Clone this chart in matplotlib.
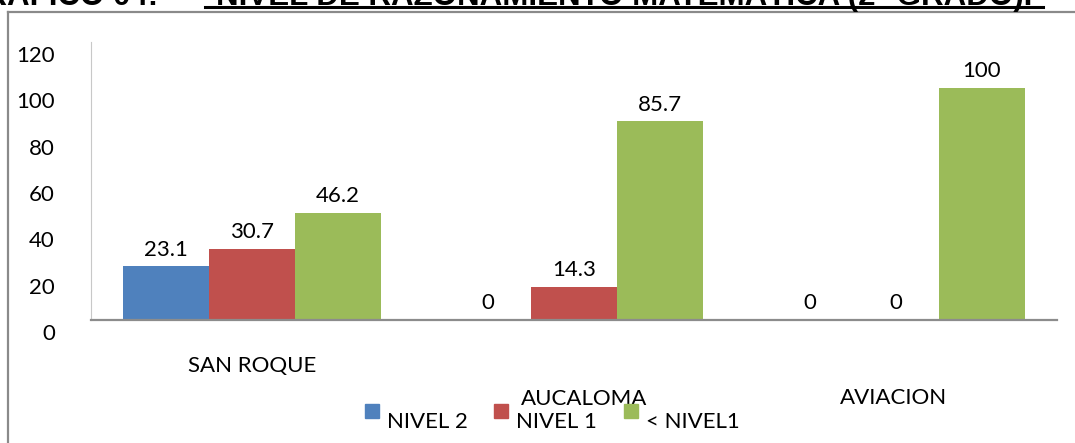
import numpy as np
import matplotlib
matplotlib.use("Agg")
import matplotlib.pyplot as plt
from matplotlib.transforms import ScaledTranslation
from matplotlib.lines import Line2D
from matplotlib.patches import Rectangle

# --- Data ---
schools  = ["SAN ROQUE", "AUCALOMA", "AVIACION"]
series   = ["NIVEL 2", "NIVEL 1", "< NIVEL1"]
nivel2   = [23.1, 0, 0]
nivel1   = [30.7, 14.3, 0]
bajo1    = [46.2, 85.7, 100]
colors   = ["#4F81BD", "#C0504D", "#9BBB59"]
yticks   = [0, 20, 40, 60, 80, 100, 120]

W, H = 1075, 443
plt.rcParams['font.family'] = ['Lato', 'DejaVu Sans']

fig = plt.figure(figsize=(W / 100, H / 100), dpi=100)
ax = fig.add_axes([91 / W, 1 - 320 / H, (1057 - 91) / W, (320 - 42) / H])

def px(x, y):                     # pixel (from top-left) -> figure fraction
    return x / W, 1 - y / H

# --- Bars ---
x = np.arange(len(schools))
bw = 0.8 / 3
for i, (vals, c) in enumerate(zip([nivel2, nivel1, bajo1], colors)):
    bars = ax.bar(x + (i - 1) * bw, vals, bw, color=c, zorder=2)
    ax.bar_label(bars, labels=[f"{v:g}" for v in vals], padding=5, fontsize=16)

ax.set_xlim(-0.5, 2.5)
ax.set_ylim(0, 120)
ax.set_yticks(yticks)
ax.tick_params(axis='y', length=0, pad=26, labelsize=16)
for lab in ax.get_yticklabels():
    lab.set_transform(lab.get_transform() + ScaledTranslation(0, -0.12, fig.dpi_scale_trans))

# category labels, staggered like the original
ax.set_xticks(x)
ax.set_xticklabels(schools, fontsize=16)
ax.tick_params(axis='x', length=0, pad=0)
offsets = [(0, -0.36), (0.10, -0.69), (-0.03, -0.68)]
for lab, (dx, dy) in zip(ax.get_xticklabels(), offsets):
    lab.set_transform(lab.get_transform() + ScaledTranslation(dx, dy, fig.dpi_scale_trans))

for s in ["top", "right"]:
    ax.spines[s].set_visible(False)
ax.spines["left"].set_color("#c8c8c8")
ax.spines["left"].set_linewidth(0.8)
ax.spines["bottom"].set_color("#8c8c8c")
ax.spines["bottom"].set_linewidth(1.6)

# --- Legend (drawn by hand to keep the original offsets) ---
leg_x = [365, 494, 624]
for lx, c, name in zip(leg_x, colors, series):
    fx, fy = px(lx, 418)
    fig.patches.append(Rectangle((fx, fy), 14 / W, 14 / H, transform=fig.transFigure,
                                 color=c, figure=fig))
    tx, ty = px(lx + 22, 422)
    fig.text(tx, ty, name, fontsize=16, va='center', ha='left')

# --- Chart border (cut off on right and bottom) ---
fig.add_artist(Line2D([8 / W, 1.0], [1 - 12 / H] * 2, color="#8a8a8a", lw=1.6))
fig.add_artist(Line2D([8 / W] * 2, [0, 1 - 12 / H], color="#8a8a8a", lw=1.6))

# --- Title (cut off at the top, as in the original) ---
tfont = dict(fontsize=22.5, fontweight='bold', va='baseline',
             family=['Liberation Sans', 'DejaVu Sans'])
fig.text(158 / W, 1 - 5 / H, "GRÁFICO 04:", ha='right', **tfont)
fig.text(216 / W, 1 - 5 / H, "NIVEL DE RAZONAMIENTO MATEMÁTICA (2° GRADO).", ha='left', **tfont)
fig.add_artist(Line2D([205 / W, 1043 / W], [1 - 7 / H] * 2, color="black", lw=2.2))

fig.savefig("out.png", dpi=100)
